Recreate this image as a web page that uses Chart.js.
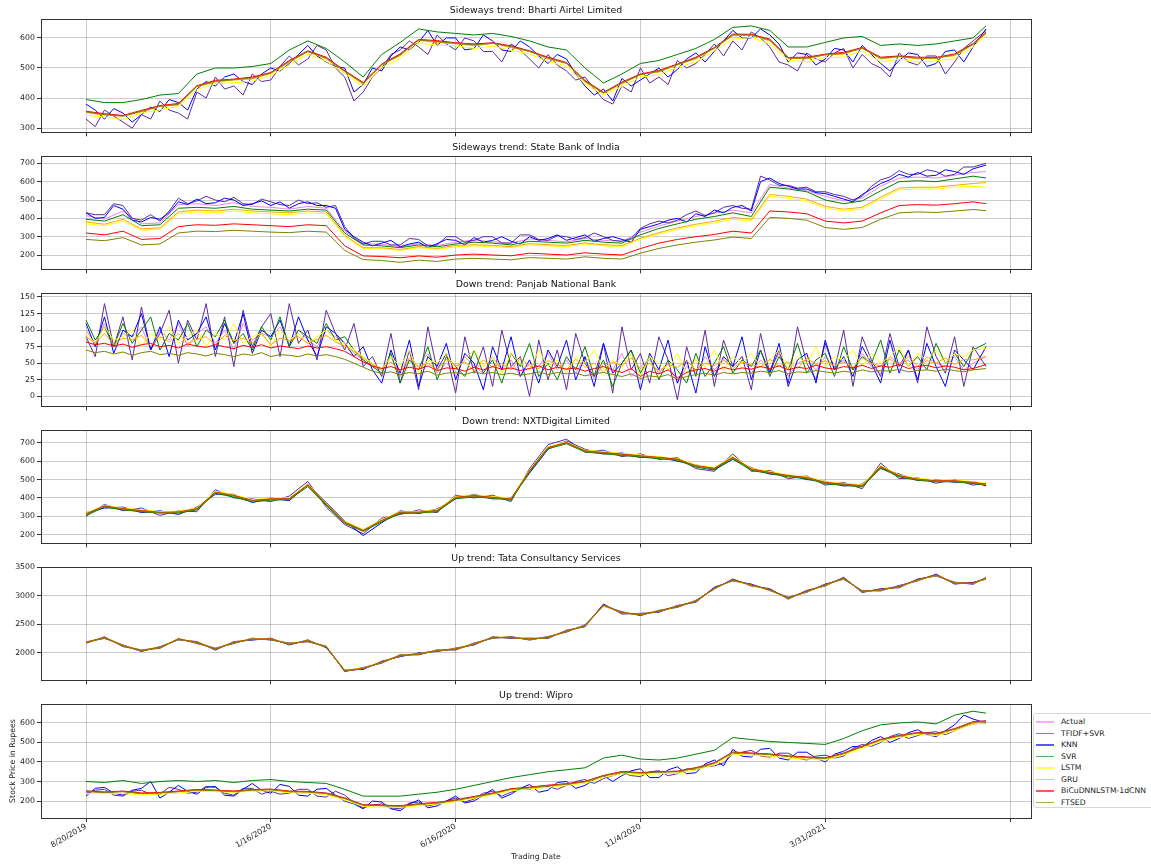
<!DOCTYPE html>
<html>
<head>
<meta charset="utf-8">
<script src="https://cdn.jsdelivr.net/npm/chart.js@4.4.1/dist/chart.umd.min.js"></script>
<style>
  body { margin: 0; background: #fff; width: 1151px; height: 865px; position: relative; overflow: hidden; font-family: "DejaVu Sans", sans-serif; }
  .panel { position: absolute; left: 0; width: 1040px; }
  #legend { position: absolute; left: 1033px; top: 713px; width: 130px; height: 93px; border: 1px solid #d6d6d6; border-radius: 3px; background: #fff; font-size: 7.7px; color: #222; }
  #legend div { position: absolute; left: 27px; height: 11px; line-height: 11px; white-space: nowrap; }
  #legend span { position: absolute; left: -25px; top: 5px; width: 18px; height: 1.5px; opacity: 0.65; }
</style>
</head>
<body>
<div id="legend"></div>

<script>
// trading day index of each sampled point
const DAYS = [0,10,20,30,40,50,60,70,80,90,100,110,120,130,140,150,160,170,180,190,200,210,220,230,240,250,260,270,280,290,300,310,320,330,340,350,360,370,380,390,400,410,420,430,440,450,460,470,480,487];
const DAYS_FINE = [0,5,10,15,20,25,30,35,40,45,50,55,60,65,70,75,80,85,90,95,100,105,110,115,120,125,130,135,140,145,150,155,160,165,170,175,180,185,190,195,200,205,210,215,220,225,230,235,240,245,250,255,260,265,270,275,280,285,290,295,300,305,310,315,320,325,330,335,340,345,350,355,360,365,370,375,380,385,390,395,400,405,410,415,420,425,430,435,440,445,450,455,460,465,470,475,480,487];
const X_TICKS = [0,100,200,300,400,500];
const X_TICK_LABELS = ["8/20/2019","1/16/2020","6/16/2020","11/4/2020","3/31/2021",""];
const MODELS = ["Actual","TFIDF+SVR","KNN","SVR","LSTM","GRU","BiCuDNNLSTM-1dCNN","FTSED"];
const COLORS = ["violet","#5e2a9e","blue","green","yellow","orange","red","olive"];

const TITLES = [
  "Sideways trend: Bharti Airtel Limited",
  "Sideways trend: State Bank of India",
  "Down trend: Panjab National Bank",
  "Down trend: NXTDigital Limited",
  "Up trend: Tata Consultancy Services",
  "Up trend: Wipro"
];
const Y_TICKS = [[300,400,500,600],[200,300,400,500,600,700],[0,25,50,75,100,125,150],[200,300,400,500,600,700],[2000,2500,3000,3500],[200,300,400,500,600]];
const Y_LIMITS = [[286,663],[122,740],[-15,156],[153,770],[1514,3505],[113,697]];

// Bharti Airtel
const airtelActual = [355,346,341,357,374,380,440,457,462,468,484,523,556,534,490,450,512,545,594,589,583,578,583,572,556,534,517,457,418,451,479,490,512,534,567,611,611,594,534,534,545,550,567,534,539,534,534,545,580,618];
const airtelTfidf = [330,305,360,340,320,300,345,330,390,360, 350,330,420,400,470,430,440,410,480,455, 460,505,540,510,530,575,560,500,470,390, 420,470,500,545,560,590,570,545,610,580, 560,600,590,555,555,520,580,560,530,500, 545,510,490,460,470,430,395,380,440,420, 500,450,470,445,525,500,515,545,580,540, 590,560,620,600,570,520,510,490,550,530, 520,550,565,500,545,515,500,470,550,520, 510,540,540,480,520,565,590, 625];
const airtelKnn = [380,360,330,365,350,320,345,370,355,395, 385,360,430,455,440,470,480,455,445,480, 500,490,515,545,575,540,520,505,500,420, 445,500,490,540,570,560,585,625,575,600, 600,560,565,610,590,560,555,590,570,540, 515,545,530,480,440,410,430,390,465,440, 460,480,500,470,495,530,550,520,555,590, 625,600,600,630,610,580,520,550,545,510, 530,565,560,520,575,545,515,490,525,550, 545,505,515,555,560,520,570, 630];
const airtelSvr = [395,385,385,395,410,415,480,500,500,505,515,560,590,565,520,470,545,585,630,620,615,610,615,605,590,570,560,500,450,480,515,525,545,565,595,635,640,625,570,570,585,600,605,575,580,575,580,590,600,640];
const airtelLstm = [343,337,328,350,361,372,428,449,451,456,476,510,547,522,482,438,502,531,584,576,574,565,573,559,547,521,507,446,411,438,470,477,502,520,557,596,602,580,526,520,535,536,557,520,530,520,524,531,570,608];
const airtelGru = [352,343,340,354,372,377,438,453,460,464,482,519,554,530,488,446,510,541,592,585,581,574,582,568,555,530,515,453,416,447,478,486,511,530,566,607,609,590,533,530,544,546,566,530,538,530,533,541,578,614];
const airtelBicu = [356,348,342,359,375,382,441,459,463,470,485,525,557,536,491,452,513,547,595,591,584,580,584,574,557,536,518,459,419,453,480,492,513,536,568,613,612,596,535,536,546,552,568,536,540,536,535,547,581,620];
const airtelFtsed = [354,345,340,356,373,379,439,456,461,467,483,522,555,533,489,449,511,544,593,588,582,577,582,571,555,533,516,456,417,450,478,489,511,533,566,610,610,593,533,533,544,549,566,533,538,533,533,544,579,617];

// State Bank of India
const sbiActual = [415,395,440,370,375,475,480,470,485,465,460,450,465,455,330,262,258,245,262,252,270,282,272,265,288,280,272,290,280,275,325,358,385,410,428,445,430,585,565,550,520,495,510,575,620,625,620,635,650,655];
const sbiTfidf = [430,420,420,480,470,400,390,420,385,440, 510,480,495,520,500,490,515,480,475,505, 490,475,470,500,480,485,460,470,355,290, 260,275,275,255,255,290,285,250,255,300, 300,270,280,300,300,265,265,310,310,285, 280,305,300,285,295,320,300,280,275,290, 345,370,385,375,390,420,440,415,430,460, 470,455,450,630,610,580,580,565,570,545, 545,530,520,500,520,575,610,625,660,640, 640,665,655,630,640,680,680, 700];
const sbiKnn = [430,400,405,470,450,390,380,405,395,430, 490,475,505,480,485,510,500,470,480,495, 470,490,455,480,490,470,470,455,340,300, 270,250,265,280,245,260,270,240,262,285, 280,255,295,270,280,300,275,260,300,280, 290,310,280,295,310,275,290,300,285,270, 340,355,370,390,400,380,425,410,445,430, 460,470,440,600,620,590,575,560,560,540, 535,520,505,490,530,560,590,610,640,625, 650,630,635,665,655,640,670, 690];
const sbiSvr = [395,385,420,360,365,455,460,455,465,450,445,440,450,445,320,255,250,240,255,245,260,270,265,255,275,270,265,280,270,265,310,345,370,395,410,430,410,570,560,545,500,480,495,550,600,605,600,615,630,620];
const sbiLstm = [370,360,385,335,340,425,435,430,440,430,425,420,430,425,300,235,235,225,240,230,245,250,245,240,255,250,245,260,250,245,285,315,340,360,375,395,385,520,510,495,455,440,450,505,555,560,560,570,575,570];
const sbiGru = [380,368,395,342,348,435,445,440,450,440,435,430,440,435,308,240,240,230,246,236,252,256,252,246,262,256,252,266,256,252,292,322,348,368,384,405,395,530,520,505,465,450,460,515,565,570,570,580,590,595];
const sbiBicu = [320,310,330,285,290,355,365,362,370,365,360,355,365,360,250,195,192,185,195,188,200,205,200,196,210,205,200,212,205,200,235,265,285,300,312,330,320,440,435,425,385,375,385,430,470,475,472,480,490,480];
const sbiFtsed = [285,278,295,255,260,320,330,328,335,330,325,322,330,325,225,175,170,160,172,165,178,182,178,174,186,182,178,190,182,178,210,236,255,270,282,298,290,405,400,390,350,340,350,395,430,435,432,440,448,442];

// Panjab National Bank
const pnbActual = [100,80,110,75,95,90,105,70,100,85,110,75,95,105,80,100,70,110,85,95,90,105,80,100,85,75,100,90, 80,65,55,45,
  40,60,30,55,45,65,35,50,40,60,45,35,60,40,55,30,50,45,65,40,55,35,60,25,50,40,65,30,45,55,35,50,20,45,35,60,40,55,45,60,35,55,40,65,30,50,55,40,60,45,55,40,65,45,35,60,50,55,40,60,50,45,60,40,50, 60];
const pnbTfidf = [90,60,140,75,120,55,135,70,95,130,50,115,85,140,60,120,45,130,75,105,125,60,140,80,100,55,130,95, 70,110,45,60,
  30,95,20,70,10,105,40,65,5,90,35,75,15,100,45,60,0,85,25,70,10,95,50,30,80,5,105,40,65,20,90,55,-5,75,30,100,15,85,45,60,10,95,35,70,20,105,50,25,80,40,100,15,90,55,30,95,45,70,20,105,60,35,90,15,75, 45];
const pnbKnn = [110,75,120,65,100,90,125,70,105,60,115,85,95,120,70,110,80,125,65,100,90,115,75,120,85,60,105,95, 80,60,75,40,
  20,70,35,85,15,60,45,80,25,65,50,10,75,40,90,30,55,20,70,45,85,25,60,15,80,35,50,70,10,65,40,85,20,55,5,75,30,60,45,90,25,70,35,80,15,55,65,20,85,40,60,30,75,50,20,85,35,70,25,80,45,15,70,55,40, 75];
const pnbSvr = [115,85,105,75,110,80,100,120,70,95,85,110,75,100,90,115,80,95,70,105,85,120,75,100,90,80,110,85, 90,70,55,45,
  35,65,20,55,40,75,25,60,45,30,70,35,55,20,65,45,80,30,50,25,60,40,75,30,55,15,50,70,35,60,25,55,40,20,65,30,50,75,35,55,45,70,30,60,40,80,35,55,65,30,75,40,60,50,85,35,70,45,60,40,80,50,65,45,70, 80];
const pnbLstm = [95,80,105,85,90,100,75,95,85,105,80,90,100,75,95,85,110,80,90,95,75,100,85,95,80,90,100,85, 80,70,60,50,
  40,60,45,70,35,55,50,65,40,55,70,45,60,35,65,50,40,70,45,55,35,60,50,70,40,55,45,65,30,60,50,40,65,35,55,45,70,40,60,50,65,45,55,70,40,60,50,75,45,60,55,70,45,65,50,60,75,45,65,55,70,50,65,60,70, 72];
const pnbGru = [90,80,95,78,88,85,92,76,90,82,95,80,86,90,78,92,84,88,80,95,78,88,84,90,80,86,92,82, 76,68,58,48,
  42,52,38,58,44,50,40,56,46,52,38,55,44,50,40,58,46,42,54,48,40,56,44,50,36,52,46,58,42,50,38,48,44,54,40,50,46,56,42,52,48,44,56,46,52,42,58,48,54,46,52,44,58,50,46,56,48,60,46,54,50,58,48,56,55, 60];
const pnbBicu = [82,78,80,76,79,74,78,80,75,77,73,79,76,74,78,75,72,77,74,78,73,76,74,72,76,73,75,72, 68,60,52,46,
  42,45,40,44,41,46,39,43,42,38,44,40,45,41,43,39,42,46,40,44,41,43,38,42,45,40,36,42,30,38,34,40,28,36,40,42,38,44,40,43,41,45,42,46,40,44,42,47,43,41,45,43,47,42,46,44,48,42,45,47,43,46,44,40,42, 48];
const pnbFtsed = [70,66,68,64,67,62,66,68,63,65,62,66,64,61,65,63,60,64,62,66,60,63,62,60,64,61,63,60, 56,50,44,38,
  35,37,33,36,34,38,32,35,36,33,37,34,36,33,35,32,34,37,33,36,34,35,31,34,36,33,30,34,27,31,29,33,26,30,33,35,32,36,34,36,35,38,36,39,34,37,36,39,37,35,38,36,40,37,39,38,41,37,39,40,38,41,39,37,40, 42];

// NXTDigital
const nxtActual = [312,355,340,330,320,322,340,430,412,385,393,395,470,366,267,222,276,321,321,330,402,411,402,393,547,673,700,655,646,637,628,619,610,574,560,620,556,538,520,510,483,474,465,570,520,501,492,492,483,474];
const nxtTfidf = [300,365,330,345,305,330,325,445,400,395,380,410,490,350,255,205,290,310,335,320,415,400,415,380,560,690,720,650,660,625,640,610,620,560,545,640,545,550,505,520,470,485,450,590,505,510,480,500,470,480];
const nxtKnn = [320,345,350,320,330,310,350,420,420,375,400,385,475,375,275,195,265,330,315,340,395,420,395,400,535,665,710,665,640,645,620,625,600,580,555,610,565,530,525,500,490,465,475,560,530,495,500,485,490,465];
const nxtSvr = [305,350,335,325,318,318,335,425,405,378,388,390,462,360,262,218,270,315,318,325,396,405,398,388,540,668,695,650,640,632,622,614,605,568,552,612,550,532,515,505,478,468,460,562,515,496,488,488,478,470];
const nxtLstm = [318,360,345,336,326,328,346,436,418,391,399,401,476,372,273,228,282,327,327,336,408,417,408,399,553,679,706,661,652,643,634,625,616,580,566,626,562,544,526,516,489,480,471,576,526,507,498,498,489,480];
const nxtGru = [314,357,342,332,322,324,342,432,414,387,395,397,472,368,269,224,278,323,323,332,404,413,404,395,549,675,702,657,648,639,630,621,612,576,562,622,558,540,522,512,485,476,467,572,522,503,494,494,485,476];
const nxtBicu = [313,356,341,331,321,323,341,431,413,386,394,396,471,367,268,223,277,322,322,331,403,412,403,394,548,674,701,656,647,638,629,620,611,575,561,621,557,539,521,511,484,475,466,571,521,502,493,493,484,475];
const nxtFtsed = [311,354,339,329,319,321,339,429,411,384,392,394,469,365,266,221,275,320,320,329,401,410,401,392,546,672,699,654,645,636,627,618,609,573,559,619,555,537,519,509,482,473,464,569,519,500,491,491,482,473];

// Tata Consultancy Services
const tcsActual = [2179,2266,2121,2035,2092,2237,2179,2064,2179,2237,2237,2150,2208,2100,1680,1720,1832,1948,1977,2035,2064,2150,2266,2266,2237,2266,2380,2470,2840,2699,2671,2728,2815,2902,3133,3277,3191,3104,2960,3075,3191,3306,3075,3104,3162,3277,3364,3220,3220,3306];
const tcsTfidf = [2165,2280,2105,2050,2075,2250,2160,2080,2160,2255,2220,2170,2190,2115,1665,1740,1815,1965,1960,2050,2045,2170,2250,2285,2220,2285,2360,2490,2820,2720,2650,2745,2795,2920,3115,3295,3170,3125,2940,3095,3170,3325,3055,3125,3140,3295,3345,3240,3200,3320];
const tcsKnn = [2190,2250,2135,2020,2105,2225,2195,2045,2195,2220,2255,2135,2225,2085,1695,1705,1850,1930,1995,2020,2080,2135,2280,2250,2255,2250,2395,2455,2855,2680,2690,2710,2830,2885,3150,3260,3205,3090,2975,3060,3205,3290,3090,3085,3180,3260,3380,3205,3235,3290];
const tcsSvr = [2172,2270,2128,2040,2098,2232,2186,2070,2172,2242,2230,2156,2202,2106,1690,1726,1826,1954,1970,2040,2058,2156,2260,2272,2230,2272,2374,2476,2832,2706,2664,2734,2808,2908,3126,3284,3184,3110,2954,3082,3184,3312,3068,3110,3156,3284,3356,3226,3214,3312];
const tcsLstm = [2185,2272,2127,2041,2098,2243,2185,2070,2185,2243,2243,2156,2214,2106,1690,1728,1838,1954,1983,2041,2070,2156,2272,2272,2243,2272,2386,2476,2830,2705,2677,2734,2821,2908,3127,3271,3185,3098,2966,3069,3185,3300,3081,3098,3168,3271,3358,3226,3214,3300];
const tcsGru = [2176,2262,2118,2032,2089,2234,2176,2061,2176,2234,2234,2147,2205,2097,1684,1724,1829,1945,1974,2032,2061,2147,2262,2262,2234,2262,2377,2467,2826,2696,2668,2725,2812,2899,3130,3274,3188,3101,2957,3072,3188,3303,3072,3101,3159,3274,3361,3217,3217,3303];
const tcsBicu = [2181,2268,2123,2037,2094,2239,2181,2066,2181,2239,2239,2152,2210,2102,1682,1722,1834,1950,1979,2037,2066,2152,2268,2268,2239,2268,2382,2472,2838,2701,2673,2730,2817,2904,3135,3279,3193,3106,2962,3077,3193,3308,3077,3106,3164,3279,3366,3222,3222,3308];
const tcsFtsed = [2177,2264,2119,2033,2090,2235,2177,2062,2177,2235,2235,2148,2206,2098,1678,1718,1830,1946,1975,2033,2062,2148,2264,2264,2235,2264,2378,2468,2838,2697,2669,2726,2813,2900,3131,3275,3189,3102,2958,3073,3189,3304,3073,3102,3160,3275,3362,3218,3218,3304];

// Wipro
const wiproActual = [251,245,250,240,243,250,258,255,250,258,260,250,248,240,215,180,178,175,185,192,205,222,240,262,270,280,288,300,330,350,345,350,352,370,395,450,445,440,430,425,420,445,480,515,535,550,545,570,605,610];
const wiproTfidf = [240,255,260,230,225,250,255,235,235,270, 260,240,245,275,270,240,230,265,265,235, 250,235,240,260,260,225,220,250,230,190, 165,180,185,165,160,190,195,175,185,200, 215,195,210,240,250,225,245,260,260,270, 275,260,280,300,310,290,315,330,345,330, 325,350,355,330,340,365,360,375,380,395, 440,450,460,430,425,445,445,420,410,430, 435,420,430,470,490,480,500,530,545,520, 535,550,555,540,560,580,595, 600];
const wiproKnn = [225,265,270,240,230,255,265,300,215,245, 280,250,235,270,275,230,225,260,290,255, 240,285,275,230,225,260,265,230,200,185, 160,200,195,160,150,185,205,165,175,200, 225,190,200,230,260,215,235,265,285,245, 255,295,300,265,280,310,330,300,330,355, 365,320,320,360,375,340,345,390,410,380, 465,430,425,465,470,420,410,450,450,420, 400,440,455,480,475,510,530,500,520,550, 565,540,530,560,590,640,620, 600];
const wiproSvr = [300,295,305,290,300,305,300,305,295,305,310,300,295,290,260,225,225,225,235,245,260,280,300,320,335,350,360,370,420,435,415,410,420,440,460,525,515,505,500,495,490,520,560,590,600,605,595,640,660,650];
const wiproLstm = [238,240,238,232,235,240,250,248,244,250,252,242,240,233,205,172,168,168,176,185,196,214,232,252,262,270,280,290,320,340,336,340,342,360,385,440,434,430,420,415,410,436,470,505,525,540,535,560,595,600];
const wiproGru = [248,246,248,238,242,248,256,254,248,256,258,248,246,238,212,178,176,172,182,190,202,220,238,260,268,278,286,298,328,348,342,348,350,368,392,448,442,438,428,422,418,442,478,512,532,548,542,568,602,606];
const wiproBicu = [252,246,251,241,244,251,259,256,251,259,261,251,249,241,216,181,179,176,186,193,206,223,241,263,271,281,289,301,331,351,346,351,353,371,396,451,446,441,431,426,421,446,481,516,536,551,546,571,606,611];
const wiproFtsed = [249,243,248,238,241,248,256,253,248,256,258,248,246,238,213,178,176,173,183,190,203,220,238,260,268,278,286,298,328,348,343,348,350,368,393,448,443,438,428,423,418,443,478,513,533,548,543,568,603,608];

const PANEL_SERIES = [
  [airtelActual, airtelTfidf, airtelKnn, airtelSvr, airtelLstm, airtelGru, airtelBicu, airtelFtsed],
  [sbiActual, sbiTfidf, sbiKnn, sbiSvr, sbiLstm, sbiGru, sbiBicu, sbiFtsed],
  [pnbActual, pnbTfidf, pnbKnn, pnbSvr, pnbLstm, pnbGru, pnbBicu, pnbFtsed],
  [nxtActual, nxtTfidf, nxtKnn, nxtSvr, nxtLstm, nxtGru, nxtBicu, nxtFtsed],
  [tcsActual, tcsTfidf, tcsKnn, tcsSvr, tcsLstm, tcsGru, tcsBicu, tcsFtsed],
  [wiproActual, wiproTfidf, wiproKnn, wiproSvr, wiproLstm, wiproGru, wiproBicu, wiproFtsed]
];

const FONT = "DejaVu Sans";
const FRAME_TOPS = [19, 156, 293, 430, 567, 704];
const FRAME_H = 114;
const TITLE_H = 18;

// box around the axes, like matplotlib spines
const framePlugin = {
  id: "frame",
  afterDraw(chart) {
    const { ctx, chartArea: a } = chart;
    ctx.save();
    ctx.strokeStyle = "#333";
    ctx.lineWidth = 1;
    const l = Math.round(a.left) + 0.5, t = Math.round(a.top) + 0.5;
    ctx.strokeRect(l, t, Math.round(a.right) - Math.round(a.left), Math.round(a.bottom) - Math.round(a.top));
    ctx.restore();
  }
};

function buildPanel(k) {
  const last = k === 5;
  const bottomH = last ? 865 - (FRAME_TOPS[k] + FRAME_H) : 6;
  const wrap = document.createElement("div");
  wrap.className = "panel";
  wrap.style.top = (FRAME_TOPS[k] - TITLE_H) + "px";
  wrap.style.height = (TITLE_H + FRAME_H + bottomH) + "px";
  const canvas = document.createElement("canvas");
  wrap.appendChild(canvas);
  document.body.appendChild(wrap);

  const datasets = PANEL_SERIES[k].map((vals, i) => {
    const xs = vals.length === DAYS_FINE.length ? DAYS_FINE : DAYS;
    return {
      label: MODELS[i],
      data: xs.map((d, j) => ({ x: d, y: vals[j] })),
      borderColor: COLORS[i],
      borderWidth: 1,
      pointRadius: 0,
      tension: 0,
      fill: false,
      order: MODELS.length - i
    };
  });

  new Chart(canvas, {
    type: "line",
    data: { datasets },
    options: {
      responsive: true,
      maintainAspectRatio: false,
      animation: false,
      devicePixelRatio: 1,
      layout: { padding: { left: 0, right: 9, top: 0, bottom: 0 } },
      plugins: {
        legend: { display: false },
        tooltip: { enabled: false },
        title: {
          display: true,
          text: TITLES[k],
          fullSize: false,
          color: "#111",
          font: { family: FONT, size: 9.4, weight: "normal", lineHeight: "11px" },
          padding: { top: 4, bottom: 3 }
        }
      },
      scales: {
        x: {
          type: "linear",
          min: -24.35,
          max: 511.35,
          afterBuildTicks: s => { s.ticks = X_TICKS.map(v => ({ value: v })); },
          afterFit: s => { s.height = bottomH; },
          grid: { color: "rgba(0,0,0,0.2)", lineWidth: 1, tickColor: "#333", tickLength: 4 },
          border: { color: "#333" },
          ticks: {
            display: last,
            autoSkip: false,
            minRotation: 30,
            maxRotation: 30,
            padding: 0,
            color: "#222",
            font: { family: FONT, size: 7.8 },
            callback: (v, i) => X_TICK_LABELS[i]
          },
          title: {
            display: last,
            text: "Trading Date",
            color: "#222",
            font: { family: FONT, size: 7.8 },
            padding: { top: 0, bottom: 3 }
          }
        },
        y: {
          min: Y_LIMITS[k][0],
          max: Y_LIMITS[k][1],
          afterBuildTicks: s => { s.ticks = Y_TICKS[k].map(v => ({ value: v })); },
          afterFit: s => { s.width = 41; },
          grid: { color: "rgba(0,0,0,0.2)", lineWidth: 1, tickColor: "#333", tickLength: 4 },
          border: { color: "#333" },
          ticks: { color: "#222", padding: 2, font: { family: FONT, size: 7.8 }, callback: v => String(v) },
          title: {
            display: last,
            text: "Stock Price in Rupees",
            color: "#222",
            font: { family: FONT, size: 7.8 },
            padding: { top: 8, bottom: 0 }
          }
        }
      }
    },
    plugins: [framePlugin]
  });
}

for (let k = 0; k < 6; k++) buildPanel(k);

// legend beside the last panel
const legend = document.getElementById("legend");
MODELS.forEach((m, i) => {
  const row = document.createElement("div");
  row.style.top = (2 + i * 11.5) + "px";
  row.innerHTML = `<span style="background:${COLORS[i]}"></span>${m}`;
  legend.appendChild(row);
});
</script>
</body>
</html>
